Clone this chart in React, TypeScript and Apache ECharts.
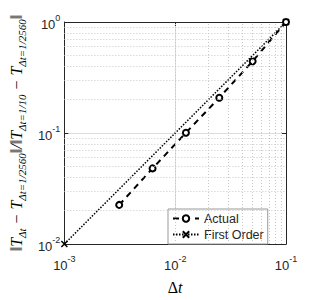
import React, { useEffect, useRef } from "react";
import * as echarts from "echarts";

const dt = [0.003125, 0.00625, 0.0125, 0.025, 0.05, 0.1];
const actual = [0.0225, 0.048, 0.1005, 0.208, 0.443, 1.0];
const firstOrderX = [0.001, 0.1];
const firstOrderY = [0.01, 1.0];
const minorX = [0.002, 0.003, 0.004, 0.005, 0.006, 0.007, 0.008, 0.009, 0.02, 0.03, 0.04, 0.05, 0.06, 0.07, 0.08, 0.09];
const minorY = [0.02, 0.03, 0.04, 0.05, 0.06, 0.07, 0.08, 0.09, 0.2, 0.3, 0.4, 0.5, 0.6, 0.7, 0.8, 0.9];

const AX = "#262626";
const tickFmt = (v: number) => "{b|10}{e|" + Math.round(Math.log10(v)) + "}";
const tickRich = {
  b: { fontSize: 13, color: AX, fontFamily: "Liberation Sans", lineHeight: 18, verticalAlign: "bottom" },
  e: { fontSize: 9, color: AX, fontFamily: "Liberation Sans", lineHeight: 10, verticalAlign: "top" },
};

export default function App() {
  const ref = useRef<HTMLDivElement>(null);
  useEffect(() => {
    const chart = echarts.init(ref.current!, null, { renderer: "svg" });
    const serif = "Liberation Serif";
    chart.setOption({
      animation: false,
      grid: { left: 52, right: 32, top: 22, bottom: 45 },
      legend: {
        left: 168,
        top: 209,
        orient: "vertical",
        data: ["Actual", "First Order"],
        backgroundColor: "#fff",
        borderColor: "#999",
        borderWidth: 1,
        borderRadius: 0,
        padding: [3, 4],
        itemGap: 3,
        itemWidth: 26,
        itemHeight: 8,
        textStyle: { fontSize: 12.5, color: AX, fontFamily: "Liberation Sans" },
      },
      xAxis: [
        {
          type: "log",
          logBase: 10,
          min: 0.001,
          max: 0.1,
          name: "{d|Δ}{t|t}",
          nameLocation: "middle",
          nameGap: 35,
          nameTextStyle: {
            rich: {
              d: { fontSize: 16, fontFamily: serif, color: "#000" },
              t: { fontSize: 16, fontFamily: serif, fontStyle: "italic", color: "#000" },
            },
          },
          axisLine: { lineStyle: { color: AX, width: 1 } },
          axisTick: { inside: true, length: 4, lineStyle: { color: AX } },
          axisLabel: { formatter: tickFmt, rich: tickRich, margin: 10 },
          splitLine: { show: true, lineStyle: { color: "#dcdcdc", width: 1 } },
        },
        {
          type: "log",
          logBase: 10,
          min: 0.001,
          max: 0.1,
          position: "top",
          axisLine: { show: true, lineStyle: { color: AX, width: 1 } },
          axisTick: { inside: true, length: 4, lineStyle: { color: AX } },
          axisLabel: { show: false },
          splitLine: { show: false },
        },
      ],
      yAxis: [
        {
          type: "log",
          logBase: 10,
          min: 0.01,
          max: 1,
          name:
            "{n|‖T}{s|Δt}{n| − T}{s|Δt=1/2560}{n|‖/‖T}{s|Δt=1/10}{n| − T}{s|Δt=1/2560}{n|‖}",
          nameLocation: "middle",
          nameGap: 34,
          nameRotate: 90,
          nameTextStyle: {
            rich: {
              n: { fontSize: 16, fontFamily: serif, fontStyle: "italic", color: "#000", lineHeight: 22, verticalAlign: "middle" },
              s: { fontSize: 11, fontFamily: serif, fontStyle: "italic", color: "#000", lineHeight: 11, verticalAlign: "bottom" },
            },
          },
          axisLine: { show: true, lineStyle: { color: AX, width: 1 } },
          axisTick: { inside: true, length: 4, lineStyle: { color: AX } },
          axisLabel: { formatter: tickFmt, rich: tickRich, margin: 4 },
          splitLine: { show: true, lineStyle: { color: "#dcdcdc", width: 1 } },
        },
        {
          type: "log",
          logBase: 10,
          min: 0.01,
          max: 1,
          position: "right",
          axisLine: { show: true, lineStyle: { color: AX, width: 1 } },
          axisTick: { inside: true, length: 4, lineStyle: { color: AX } },
          axisLabel: { show: false },
          splitLine: { show: false },
        },
      ],
      series: [
        {
          name: "grid",
          type: "line",
          data: [],
          silent: true,
          z: 1,
          markLine: {
            silent: true,
            symbol: "none",
            label: { show: false },
            lineStyle: { color: "#c8c8c8", type: [1, 2], width: 1 },
            data: [
              ...minorX.map((x) => ({ xAxis: x })),
              ...minorY.map((y) => ({ yAxis: y })),
            ],
          },
        },
        {
          name: "First Order",
          type: "line",
          data: firstOrderX.map((x, i) => [x, firstOrderY[i]]),
          symbol: "path://M0,0L10,10M10,0L0,10",
          symbolSize: 6,
          itemStyle: { color: "#000", borderColor: "#000", borderWidth: 1.5 },
          lineStyle: { color: "#000", width: 1.5, type: [1.5, 1.5] },
          z: 3,
        },
        {
          name: "Actual",
          type: "line",
          data: dt.map((x, i) => [x, actual[i]]),
          symbol: "circle",
          symbolSize: 6,
          itemStyle: { color: "#fff", borderColor: "#000", borderWidth: 2 },
          lineStyle: { color: "#000", width: 2, type: [6, 5] },
          z: 4,
        },
      ],
    });
    return () => chart.dispose();
  }, []);
  return <div ref={ref} style={{ width: 318, height: 300, position: "absolute", left: 0, top: 0 }} />;
}
